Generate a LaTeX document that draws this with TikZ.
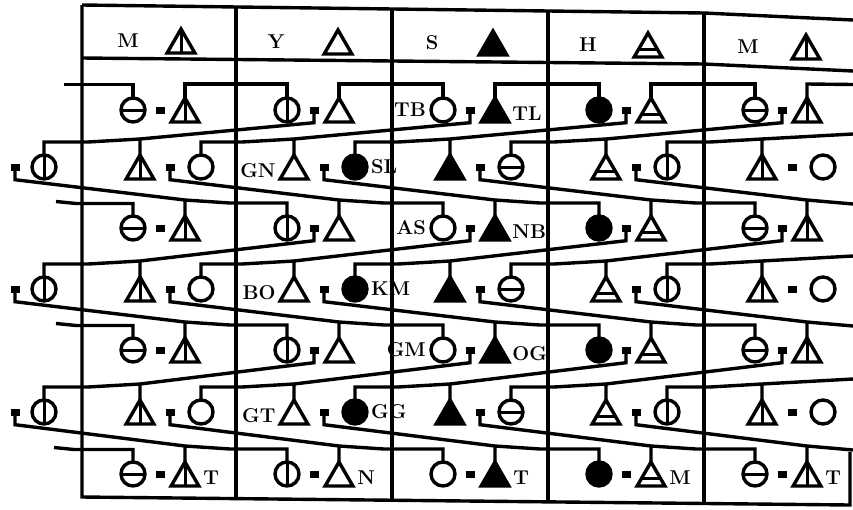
\documentclass[tikz,border=0pt]{standalone}
\usepackage{tikz}
\usetikzlibrary{shapes.geometric, positioning, calc}
\usepackage{xcolor}
\definecolor{Ink}{HTML}{000000}
\tikzset{
  kin/.style={draw=Ink, line width=3.4pt},
  sym/.style={draw=Ink, line width=3.4pt, inner sep=0pt, outer sep=0pt},
  tri/.style={sym, regular polygon, regular polygon sides=3, minimum size=32pt, yshift=-4pt},
  circ/.style={sym, circle, minimum size=24pt},
  mtri/.style={tri, path picture={\draw[line width=3pt] (path picture bounding box.north) -- (path picture bounding box.south);}},
  ytri/.style={tri},
  stri/.style={tri, fill=Ink},
  htri/.style={tri, path picture={\draw[line width=3pt]
    ($(path picture bounding box.south west)!0.3!(path picture bounding box.north west)$) --
    ($(path picture bounding box.south east)!0.3!(path picture bounding box.north east)$);}},
  hcirc/.style={circ, path picture={\draw[line width=3pt] (path picture bounding box.west) -- (path picture bounding box.east);}},
  mcirc/.style={circ, path picture={\draw[line width=3pt] (path picture bounding box.north) -- (path picture bounding box.south);}},
  ycirc/.style={circ},
  scirc/.style={circ, fill=Ink},
  wed/.style={fill=Ink, inner sep=0pt, minimum width=9pt, minimum height=7pt},
  lbl/.style={text=Ink, inner sep=1pt, font=\fontsize{20}{23}\selectfont\bfseries},
  hdr/.style={text=Ink, inner sep=1pt, font=\fontsize{20}{23}\selectfont\bfseries},
}

\begin{document}
\begin{tikzpicture}[x=1pt, y=-1pt]
    \fill[white] (0,0) rectangle (853,509);
    \useasboundingbox (0,0) rectangle (853,509);
    \draw[kin] (82,5) -- (704,13) -- (853,20);
    \draw[kin] (82,58) -- (704,64) -- (853,71);
    \draw[kin] (82,5) -- (82,497) -- (850,505) -- (850,452);
    \draw[kin] (236,7) -- (236,499);
    \draw[kin] (392,9) -- (392,501);
    \draw[kin] (548,11) -- (548,502);
    \draw[kin] (704,13) -- (704,503);

    \node[hdr] (hm) at (128,41) {M};  \node[mtri] (gm) at (181,41) {};
    \node[hdr] (hy) at (276,42) {Y};  \node[ytri] (gy) at (338,42) {};
    \node[hdr] (hs) at (432,43) {S};  \node[stri] (gs) at (493,43) {};
    \node[hdr] (hh) at (588,45) {H};  \node[htri] (gh) at (648,45) {};
    \node[hdr] (hm2) at (748,47) {M}; \node[mtri] (gm2) at (806,47) {};

    \node[hcirc] (w11) at (133,110) {}; \node[wed] (e11) at (160,110) {}; \node[mtri] (m11) at (185,110) {};
    \node[mcirc] (w12) at (287,110) {}; \node[wed] (e12) at (314,110) {}; \node[ytri] (m12) at (339,110) {};
    \node[ycirc] (w13) at (443,110) {}; \node[wed] (e13) at (470,110) {}; \node[stri] (m13) at (495,110) {};
    \node[scirc] (w14) at (599,110) {}; \node[wed] (e14) at (626,110) {}; \node[htri] (m14) at (651,110) {};
    \node[hcirc] (w15) at (755,110) {}; \node[wed] (e15) at (782,110) {}; \node[mtri] (m15) at (807,110) {};
    \node[lbl, left=4pt of w13] (tb) {TB};
    \node[lbl, right=7pt of m13] (tl) {TL};

    \node[wed] (e20) at (15,167) {}; \node[mcirc] (w20) at (44,167) {};
    \node[mtri] (m21) at (140,167) {}; \node[wed] (e21) at (170,167) {}; \node[ycirc] (w21) at (201,167) {};
    \node[ytri] (m22) at (294,167) {}; \node[wed] (e22) at (324,167) {}; \node[scirc] (w22) at (355,167) {};
    \node[stri] (m23) at (450,167) {}; \node[wed] (e23) at (480,167) {}; \node[hcirc] (w23) at (511,167) {};
    \node[htri] (m24) at (606,167) {}; \node[wed] (e24) at (636,167) {}; \node[mcirc] (w24) at (667,167) {};
    \node[mtri] (m25) at (762,167) {}; \node[wed] (e25) at (792,167) {}; \node[ycirc] (w25) at (823,167) {};
    \node[lbl, left=8pt of m22] (gn) {GN};
    \node[lbl, right=3pt of w22] (sl) {SL};

    \node[hcirc] (w31) at (133,228) {}; \node[wed] (e31) at (160,228) {}; \node[mtri] (m31) at (185,228) {};
    \node[mcirc] (w32) at (287,228) {}; \node[wed] (e32) at (314,228) {}; \node[ytri] (m32) at (339,228) {};
    \node[ycirc] (w33) at (443,228) {}; \node[wed] (e33) at (470,228) {}; \node[stri] (m33) at (495,228) {};
    \node[scirc] (w34) at (599,228) {}; \node[wed] (e34) at (626,228) {}; \node[htri] (m34) at (651,228) {};
    \node[hcirc] (w35) at (755,228) {}; \node[wed] (e35) at (782,228) {}; \node[mtri] (m35) at (807,228) {};
    \node[lbl, left=4pt of w33] (as) {AS};
    \node[lbl, right=7pt of m33] (nb) {NB};

    \node[wed] (e40) at (15,289) {}; \node[mcirc] (w40) at (44,289) {};
    \node[mtri] (m41) at (140,289) {}; \node[wed] (e41) at (170,289) {}; \node[ycirc] (w41) at (201,289) {};
    \node[ytri] (m42) at (294,289) {}; \node[wed] (e42) at (324,289) {}; \node[scirc] (w42) at (355,289) {};
    \node[stri] (m43) at (450,289) {}; \node[wed] (e43) at (480,289) {}; \node[hcirc] (w43) at (511,289) {};
    \node[htri] (m44) at (606,289) {}; \node[wed] (e44) at (636,289) {}; \node[mcirc] (w44) at (667,289) {};
    \node[mtri] (m45) at (762,289) {}; \node[wed] (e45) at (792,289) {}; \node[ycirc] (w45) at (823,289) {};
    \node[lbl, left=8pt of m42] (bo) {BO};
    \node[lbl, right=3pt of w42] (km) {KM};

    \node[hcirc] (w51) at (133,350) {}; \node[wed] (e51) at (160,350) {}; \node[mtri] (m51) at (185,350) {};
    \node[mcirc] (w52) at (287,350) {}; \node[wed] (e52) at (314,350) {}; \node[ytri] (m52) at (339,350) {};
    \node[ycirc] (w53) at (443,350) {}; \node[wed] (e53) at (470,350) {}; \node[stri] (m53) at (495,350) {};
    \node[scirc] (w54) at (599,350) {}; \node[wed] (e54) at (626,350) {}; \node[htri] (m54) at (651,350) {};
    \node[hcirc] (w55) at (755,350) {}; \node[wed] (e55) at (782,350) {}; \node[mtri] (m55) at (807,350) {};
    \node[lbl, left=4pt of w53] (gm5) {GM};
    \node[lbl, right=7pt of m53] (og) {OG};

    \node[wed] (e60) at (15,412) {}; \node[mcirc] (w60) at (44,412) {};
    \node[mtri] (m61) at (140,412) {}; \node[wed] (e61) at (170,412) {}; \node[ycirc] (w61) at (201,412) {};
    \node[ytri] (m62) at (294,412) {}; \node[wed] (e62) at (324,412) {}; \node[scirc] (w62) at (355,412) {};
    \node[stri] (m63) at (450,412) {}; \node[wed] (e63) at (480,412) {}; \node[hcirc] (w63) at (511,412) {};
    \node[htri] (m64) at (606,412) {}; \node[wed] (e64) at (636,412) {}; \node[mcirc] (w64) at (667,412) {};
    \node[mtri] (m65) at (762,412) {}; \node[wed] (e65) at (792,412) {}; \node[ycirc] (w65) at (823,412) {};
    \node[lbl, left=8pt of m62] (gt) {GT};
    \node[lbl, right=3pt of w62] (gg) {GG};

    \node[hcirc] (w71) at (133,474) {}; \node[wed] (e71) at (160,474) {}; \node[mtri] (m71) at (185,474) {};
    \node[mcirc] (w72) at (287,474) {}; \node[wed] (e72) at (314,474) {}; \node[ytri] (m72) at (339,474) {};
    \node[ycirc] (w73) at (443,474) {}; \node[wed] (e73) at (470,474) {}; \node[stri] (m73) at (495,474) {};
    \node[scirc] (w74) at (599,474) {}; \node[wed] (e74) at (626,474) {}; \node[htri] (m74) at (651,474) {};
    \node[hcirc] (w75) at (755,474) {}; \node[wed] (e75) at (782,474) {}; \node[mtri] (m75) at (807,474) {};
    \node[lbl, right=8pt of m71] (t71) {T};
    \node[lbl, right=8pt of m72] (n72) {N};
    \node[lbl, right=8pt of m73] (t73) {T};
    \node[lbl, right=8pt of m74] (m74l) {M};
    \node[lbl, right=8pt of m75] (t75) {T};

    \coordinate (r1w) at (64,84.5);
    \coordinate (r1e) at (853,84.5);
    \coordinate (r2e) at (853,134);
    \coordinate (r3w) at (56,201.5);
    \coordinate (r3e) at (853,204);
    \coordinate (r4e) at (853,256);
    \coordinate (r5w) at (56,323.5);
    \coordinate (r5e) at (853,326);
    \coordinate (r6e) at (853,379);
    \coordinate (r7w) at (54,447.5);
    \coordinate (r7e) at (853,450);

    \draw[kin] (r1w) -| (w11.north);
    \draw[kin] (m11.north) -- ++(0,-14) -| (w12.north);
    \draw[kin] (m12.north) -- ++(0,-14) -| (w13.north);
    \draw[kin] (m13.north) -- ++(0,-14) -| (w14.north);
    \draw[kin] (m14.north) -- ++(0,-14) -| (w15.north);
    \draw[kin] (m15.north) -- ++(0,-14) -- (r1e);

    \draw[kin] (e12.south) -- ++(0,9) -- ($(m21.north)+(0,-16)$) -- ++(-52,3) -| (w20.north) (m21.north) -- ++(0,-16);
    \draw[kin] (e13.south) -- ++(0,9) -- ($(m22.north)+(0,-16)$) -- ++(-52,3) -| (w21.north) (m22.north) -- ++(0,-16);
    \draw[kin] (e14.south) -- ++(0,9) -- ($(m23.north)+(0,-16)$) -- ++(-52,3) -| (w22.north) (m23.north) -- ++(0,-16);
    \draw[kin] (e15.south) -- ++(0,9) -- ($(m24.north)+(0,-16)$) -- ++(-52,3) -| (w23.north) (m24.north) -- ++(0,-16);
    \draw[kin] (r2e) -- ($(m25.north)+(0,-16)$) -- ++(-52,3) -| (w24.north) (m25.north) -- ++(0,-16);

    \draw[kin] (r3w) -- ++(20,2) -| (w31.north);
    \draw[kin] (e20.south) -- ++(0,9) -- ($(m31.north)+(0,-16)$) -- ++(45,3) -| (w32.north) (m31.north) -- ++(0,-16);
    \draw[kin] (e21.south) -- ++(0,9) -- ($(m32.north)+(0,-16)$) -- ++(45,3) -| (w33.north) (m32.north) -- ++(0,-16);
    \draw[kin] (e22.south) -- ++(0,9) -- ($(m33.north)+(0,-16)$) -- ++(45,3) -| (w34.north) (m33.north) -- ++(0,-16);
    \draw[kin] (e23.south) -- ++(0,9) -- ($(m34.north)+(0,-16)$) -- ++(45,3) -| (w35.north) (m34.north) -- ++(0,-16);
    \draw[kin] (e24.south) -- ++(0,9) -- ($(m35.north)+(0,-16)$) -- (r3e) (m35.north) -- ++(0,-16);

    \draw[kin] (e32.south) -- ++(0,9) -- ($(m41.north)+(0,-16)$) -- ++(-52,3) -| (w40.north) (m41.north) -- ++(0,-16);
    \draw[kin] (e33.south) -- ++(0,9) -- ($(m42.north)+(0,-16)$) -- ++(-52,3) -| (w41.north) (m42.north) -- ++(0,-16);
    \draw[kin] (e34.south) -- ++(0,9) -- ($(m43.north)+(0,-16)$) -- ++(-52,3) -| (w42.north) (m43.north) -- ++(0,-16);
    \draw[kin] (e35.south) -- ++(0,9) -- ($(m44.north)+(0,-16)$) -- ++(-52,3) -| (w43.north) (m44.north) -- ++(0,-16);
    \draw[kin] (r4e) -- ($(m45.north)+(0,-16)$) -- ++(-52,3) -| (w44.north) (m45.north) -- ++(0,-16);

    \draw[kin] (r5w) -- ++(20,2) -| (w51.north);
    \draw[kin] (e40.south) -- ++(0,9) -- ($(m51.north)+(0,-16)$) -- ++(45,3) -| (w52.north) (m51.north) -- ++(0,-16);
    \draw[kin] (e41.south) -- ++(0,9) -- ($(m52.north)+(0,-16)$) -- ++(45,3) -| (w53.north) (m52.north) -- ++(0,-16);
    \draw[kin] (e42.south) -- ++(0,9) -- ($(m53.north)+(0,-16)$) -- ++(45,3) -| (w54.north) (m53.north) -- ++(0,-16);
    \draw[kin] (e43.south) -- ++(0,9) -- ($(m54.north)+(0,-16)$) -- ++(45,3) -| (w55.north) (m54.north) -- ++(0,-16);
    \draw[kin] (e44.south) -- ++(0,9) -- ($(m55.north)+(0,-16)$) -- (r5e) (m55.north) -- ++(0,-16);

    \draw[kin] (e52.south) -- ++(0,9) -- ($(m61.north)+(0,-16)$) -- ++(-52,3) -| (w60.north) (m61.north) -- ++(0,-16);
    \draw[kin] (e53.south) -- ++(0,9) -- ($(m62.north)+(0,-16)$) -- ++(-52,3) -| (w61.north) (m62.north) -- ++(0,-16);
    \draw[kin] (e54.south) -- ++(0,9) -- ($(m63.north)+(0,-16)$) -- ++(-52,3) -| (w62.north) (m63.north) -- ++(0,-16);
    \draw[kin] (e55.south) -- ++(0,9) -- ($(m64.north)+(0,-16)$) -- ++(-52,3) -| (w63.north) (m64.north) -- ++(0,-16);
    \draw[kin] (r6e) -- ($(m65.north)+(0,-16)$) -- ++(-52,3) -| (w64.north) (m65.north) -- ++(0,-16);

    \draw[kin] (r7w) -- ++(20,2) -| (w71.north);
    \draw[kin] (e60.south) -- ++(0,9) -- ($(m71.north)+(0,-16)$) -- ++(45,3) -| (w72.north) (m71.north) -- ++(0,-16);
    \draw[kin] (e61.south) -- ++(0,9) -- ($(m72.north)+(0,-16)$) -- ++(45,3) -| (w73.north) (m72.north) -- ++(0,-16);
    \draw[kin] (e62.south) -- ++(0,9) -- ($(m73.north)+(0,-16)$) -- ++(45,3) -| (w74.north) (m73.north) -- ++(0,-16);
    \draw[kin] (e63.south) -- ++(0,9) -- ($(m74.north)+(0,-16)$) -- ++(45,3) -| (w75.north) (m74.north) -- ++(0,-16);
    \draw[kin] (e64.south) -- ++(0,9) -- ($(m75.north)+(0,-16)$) -- (r7e) (m75.north) -- ++(0,-16);
\end{tikzpicture}
\end{document}
